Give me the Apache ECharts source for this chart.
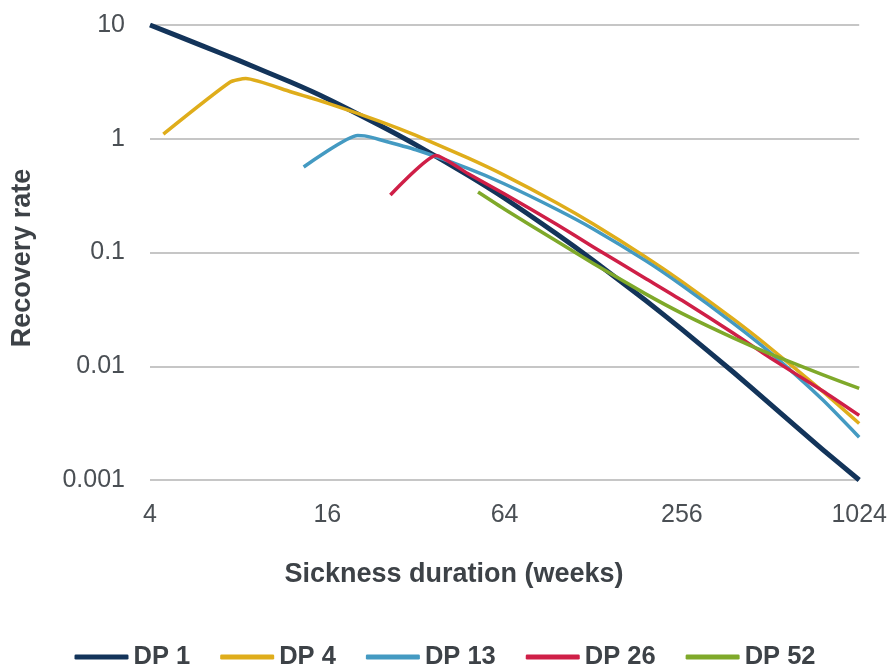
<!DOCTYPE html>
<html>
<head>
<meta charset="utf-8">
<script src="https://cdn.jsdelivr.net/npm/echarts@6/dist/echarts.min.js"></script>
<style>
html,body{margin:0;padding:0;background:#fff;}
#chart{width:890px;height:665px;}
</style>
</head>
<body>
<div id="chart"></div>
<script>
// ---- data (weeks, recovery rate) ----
const seriesNames = ['DP 1', 'DP 4', 'DP 13', 'DP 26', 'DP 52'];
const dp1X = [4, 6, 8, 12, 16, 24, 32, 48, 64, 96, 128, 192, 256, 384, 512, 768, 1024];
const dp1Y = [10, 6.59, 4.88, 3.15, 2.25, 1.32, 0.883, 0.479, 0.30, 0.146, 0.0851, 0.0382, 0.0211, 0.00881, 0.00462, 0.00186, 0.001];
const dp4X = [4.44, 7.47, 8.46, 12, 16, 24, 32, 48, 64, 96, 128, 192, 256, 384, 512, 768, 1024];
const dp4Y = [1.10, 3.14, 3.38, 2.59, 2.06, 1.43, 1.07, 0.679, 0.477, 0.274, 0.178, 0.092, 0.0555, 0.0258, 0.0144, 0.00604, 0.00314];
const dp13X = [13.3, 20.3, 21.4, 24, 32, 48, 64, 96, 128, 192, 256, 384, 512, 768, 1024];
const dp13Y = [0.565, 1.07, 1.06, 0.986, 0.80, 0.548, 0.40, 0.24, 0.161, 0.0853, 0.0514, 0.0237, 0.0131, 0.0051, 0.00238];
const dp26X = [26.2, 37.5, 48, 64, 96, 128, 192, 256, 384, 512, 768, 1024];
const dp26Y = [0.32, 0.714, 0.495, 0.327, 0.177, 0.112, 0.0595, 0.038, 0.0194, 0.0118, 0.0061, 0.0037];
const dp52X = [52, 64, 96, 128, 192, 256, 384, 512, 768, 1024];
const dp52Y = [0.34, 0.24, 0.126, 0.0802, 0.0435, 0.0292, 0.0177, 0.0128, 0.00844, 0.00638];
const xTickLabels = ['4', '16', '64', '256', '1024'];
const yTickLabels = ['0.001', '0.01', '0.1', '1', '10'];
const xTitle = 'Sickness duration (weeks)';
const yTitle = 'Recovery rate';

// ---- styles ----
const colors = ['#13345a', '#dfad1b', '#449ac2', '#cf1f47', '#7fa92a'];
const widths = [5, 3.5, 3.5, 3.5, 3.5];
const FONT = '"Liberation Sans", Arial, Helvetica, sans-serif';
const tickColor = '#4a4f54';
const titleColor = '#3d4247';

const xs = [dp1X, dp4X, dp13X, dp26X, dp52X];
const ys = [dp1Y, dp4Y, dp13Y, dp26Y, dp52Y];

const series = seriesNames.map((name, i) => ({
  name: name,
  type: 'line',
  data: xs[i].map((x, j) => [x, ys[i][j]]),
  showSymbol: false,
  symbol: 'none',
  smooth: 0.18,
  lineStyle: { color: colors[i], width: widths[i], join: 'round' },
  itemStyle: { color: colors[i] },
  emphasis: { disabled: true },
  z: 2 + i
}));

const chart = echarts.init(document.getElementById('chart'), null, { renderer: 'canvas' });
chart.setOption({
  animation: false,
  backgroundColor: '#ffffff',
  grid: { left: 150, right: 30, top: 25, bottom: 185, containLabel: false },
  xAxis: {
    type: 'log',
    logBase: 4,
    min: 4,
    max: 1024,
    axisLine: { show: false },
    axisTick: { show: false },
    splitLine: { show: false },
    axisLabel: {
      margin: 23,
      fontSize: 25,
      fontFamily: FONT,
      color: tickColor,
      formatter: v => xTickLabels[Math.round(Math.log(v) / Math.log(4)) - 1]
    }
  },
  yAxis: {
    type: 'log',
    logBase: 10,
    min: 0.001,
    max: 10,
    axisLine: { show: false },
    axisTick: { show: false },
    splitLine: { show: true, lineStyle: { color: '#b3b3b3', width: 1.5 } },
    axisLabel: {
      margin: 25,
      fontSize: 25,
      fontFamily: FONT,
      color: tickColor,
      formatter: v => yTickLabels[Math.round(Math.log10(v)) + 3]
    }
  },
  legend: {
    data: seriesNames,
    left: 'center',
    top: 639,
    icon: 'roundRect',
    itemWidth: 54,
    itemHeight: 5,
    itemGap: 30,
    textStyle: { fontSize: 25.5, fontWeight: 'bold', fontFamily: FONT, color: titleColor }
  },
  graphic: [
    {
      type: 'text',
      x: 454, y: 575,
      style: {
        text: xTitle,
        font: 'bold 27px ' + FONT,
        fill: titleColor,
        textAlign: 'center',
        textVerticalAlign: 'middle'
      }
    },
    {
      type: 'text',
      x: 23, y: 258,
      rotation: Math.PI / 2,
      style: {
        text: yTitle,
        font: 'bold 27px ' + FONT,
        fill: titleColor,
        textAlign: 'center',
        textVerticalAlign: 'middle'
      }
    }
  ],
  series: series
});
</script>
</body>
</html>
